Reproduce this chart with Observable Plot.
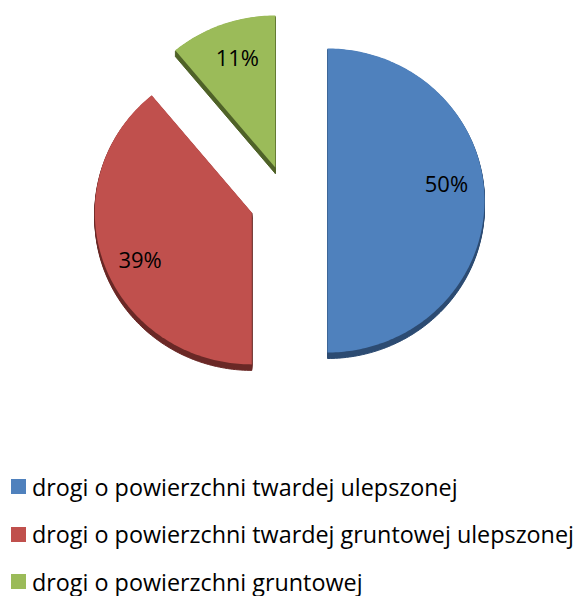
<!DOCTYPE html>
<html>
<head>
<meta charset="utf-8">
<script src="https://cdn.jsdelivr.net/npm/d3@7"></script>
<script src="https://cdn.jsdelivr.net/npm/@observablehq/plot@0.6"></script>
<style>
  html, body { margin: 0; padding: 0; background: #fff; }
  #wrap { position: relative; width: 577px; height: 596px; overflow: hidden; }
  #chart svg { display: block; }
  #legend { position: absolute; left: 0; top: 466px; font-family: "Open Sans", sans-serif; font-size: 22px; color: #000; }
  .row { position: absolute; left: 0; height: 41px; white-space: nowrap; display: flex; align-items: center; }
  .sw { width: 15px; height: 15px; margin-left: 11px; margin-right: 6px; flex: none; }
</style>
</head>
<body>
<div id="wrap">
  <div id="chart"></div>
  <div id="legend"></div>
</div>
<script>
const categories = [
  "drogi o powierzchni twardej ulepszonej",
  "drogi o powierzchni twardej gruntowej ulepszonej",
  "drogi o powierzchni gruntowej"
];
const values = [50, 39, 11];
const labels = ["50%", "39%", "11%"];
const faceColors = ["#4F81BD", "#C0504D", "#9BBB59"];
const sideColors = ["#2C4B72", "#6A2826", "#4F6228"];

// layout
const W = 577, H = 420;
const cx = 288, cy = 200, rx = 157, ry = 152, explode = 39, explodeY = 0.9, depth = 6;
const labelR = 0.77;
const labelNudge = [[-2, -16], [2, 9], [3, 2]];
const FONT = "'Open Sans', sans-serif";

const total = d3.sum(values);
let acc = 0;
const slices = values.map((v, i) => {
  const a0 = acc / total * 2 * Math.PI;
  acc += v;
  const a1 = acc / total * 2 * Math.PI;
  const mid = (a0 + a1) / 2;
  const ox = cx + explode * Math.sin(mid);
  const oy = cy - explode * Math.cos(mid) * explodeY;
  return {i, a0, a1, mid, ox, oy};
});

function outline(s, dy) {
  const pts = [{x: s.ox, y: s.oy + dy}];
  const n = Math.max(4, Math.ceil((s.a1 - s.a0) / (Math.PI / 180)));
  for (let k = 0; k <= n; k++) {
    const t = s.a0 + (s.a1 - s.a0) * k / n;
    pts.push({x: s.ox + rx * Math.sin(t), y: s.oy - ry * Math.cos(t) + dy});
  }
  pts.push({x: s.ox, y: s.oy + dy});
  return pts;
}

const sidePts = [];
for (const s of slices) {
  for (let d = 1; d <= depth; d++) {
    outline(s, d).forEach(p => sidePts.push({...p, key: s.i + "-" + d, color: sideColors[s.i]}));
  }
}
const facePts = [];
for (const s of slices) {
  outline(s, 0).forEach(p => facePts.push({...p, key: "f" + s.i, color: faceColors[s.i]}));
}
const labelPts = slices.map(s => ({
  x: s.ox + labelR * rx * Math.sin(s.mid) + labelNudge[s.i][0],
  y: s.oy - labelR * ry * Math.cos(s.mid) + labelNudge[s.i][1],
  text: labels[s.i]
}));

const chart = Plot.plot({
  width: W, height: H,
  margin: 0,
  x: {domain: [0, W], range: [0, W], axis: null},
  y: {domain: [0, H], range: [0, H], axis: null},
  color: {type: "identity"},
  style: {background: "white"},
  marks: [
    Plot.line(sidePts, {x: "x", y: "y", z: "key", fill: "color", stroke: "color", strokeWidth: 1, curve: "linear"}),
    Plot.line(facePts, {x: "x", y: "y", z: "key", fill: "color", stroke: "none", curve: "linear"}),
    Plot.text(labelPts, {x: "x", y: "y", text: "text", fontSize: 22, fill: "#000", fontFamily: FONT})
  ]
});
document.getElementById("chart").appendChild(chart);

// legend: fit the longest entry to the reference width
const ctx = document.createElement("canvas").getContext("2d");
ctx.font = "22px 'Open Sans'";
const longest = d3.max(categories, c => ctx.measureText(c).width);
const fs = Math.min(24, Math.max(18, 22 * 542 / longest));
const legend = document.getElementById("legend");
legend.style.fontSize = fs.toFixed(2) + "px";
categories.forEach((c, i) => {
  const row = document.createElement("div");
  row.className = "row";
  row.style.top = (i * 47.5) + "px";
  const sw = document.createElement("div");
  sw.className = "sw";
  sw.style.background = faceColors[i];
  const tx = document.createElement("span");
  tx.textContent = c;
  row.appendChild(sw);
  row.appendChild(tx);
  legend.appendChild(row);
});
</script>
</body>
</html>
